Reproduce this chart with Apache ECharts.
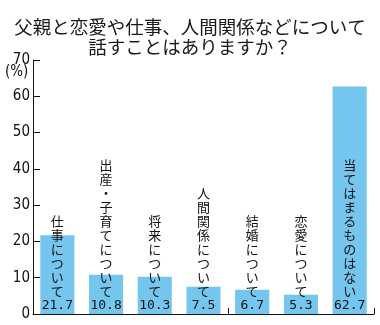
<!DOCTYPE html>
<html><head><meta charset="utf-8">
<script src="https://cdn.jsdelivr.net/npm/echarts@6/dist/echarts.min.js"></script>
<style>html,body{margin:0;padding:0;background:#fff}#c{width:380px;height:325px}</style>
</head><body><div id="c"></div>
<script>
const categories = ['仕事について','出産・子育てについて','将来について','人間関係について','結婚について','恋愛について','当てはまるものはない'];
const values = [21.7, 10.8, 10.3, 7.5, 6.7, 5.3, 62.7];
const yTicks = [0,10,20,30,40,50,60,70];

const chart = echarts.init(document.getElementById('c'));
chart.setOption({
  animation:false,
  backgroundColor:'#fff',
  title:{
    text:'父親と恋愛や仕事、人間関係などについて\n話すことはありますか？',
    left:'center', top:12,
    textStyle:{fontSize:18.5, lineHeight:20, fontWeight:'normal', color:'#1a1a1a', fontFamily:'Noto Sans CJK JP'}
  },
  graphic:[{type:'text', left:5, top:65, style:{text:'(%)', fontSize:15, fill:'#111', fontFamily:'DejaVu Sans Condensed'}}],
  grid:{left:33, right:6, top:60, bottom:11},
  xAxis:{
    type:'category', data:categories,
    axisLine:{show:true, lineStyle:{color:'#111', width:1}},
    axisTick:{show:true, inside:true, length:6, lineStyle:{color:'#111'}},
    axisLabel:{show:false}
  },
  yAxis:{
    type:'value', min:yTicks[0], max:yTicks[yTicks.length-1], interval:10,
    axisLine:{show:true, lineStyle:{color:'#111', width:1}},
    axisTick:{show:true, inside:true, length:7, lineStyle:{color:'#111'}},
    splitLine:{show:false},
    axisLabel:{margin:3, fontSize:15, color:'#111', fontFamily:'DejaVu Sans Condensed'}
  },
  series:[{
    type:'bar', data:values, barWidth:'70%',
    itemStyle:{color:'#74c6ee'},
    label:{
      show:true, position:'insideBottom', distance:1, align:'center',
      formatter:function(p){
        const chars = Array.from(categories[p.dataIndex]).map(ch=>'{c|'+ch+'}');
        return chars.join('\n') + '\n{v|' + values[p.dataIndex].toFixed(1) + '}';
      },
      rich:{
        c:{fontSize:13, lineHeight:14, color:'#111', fontFamily:'Noto Sans CJK JP', align:'center'},
        v:{fontSize:13, lineHeight:15, color:'#111', fontFamily:'DejaVu Sans Mono', align:'center'}
      }
    }
  }]
});
</script></body></html>
